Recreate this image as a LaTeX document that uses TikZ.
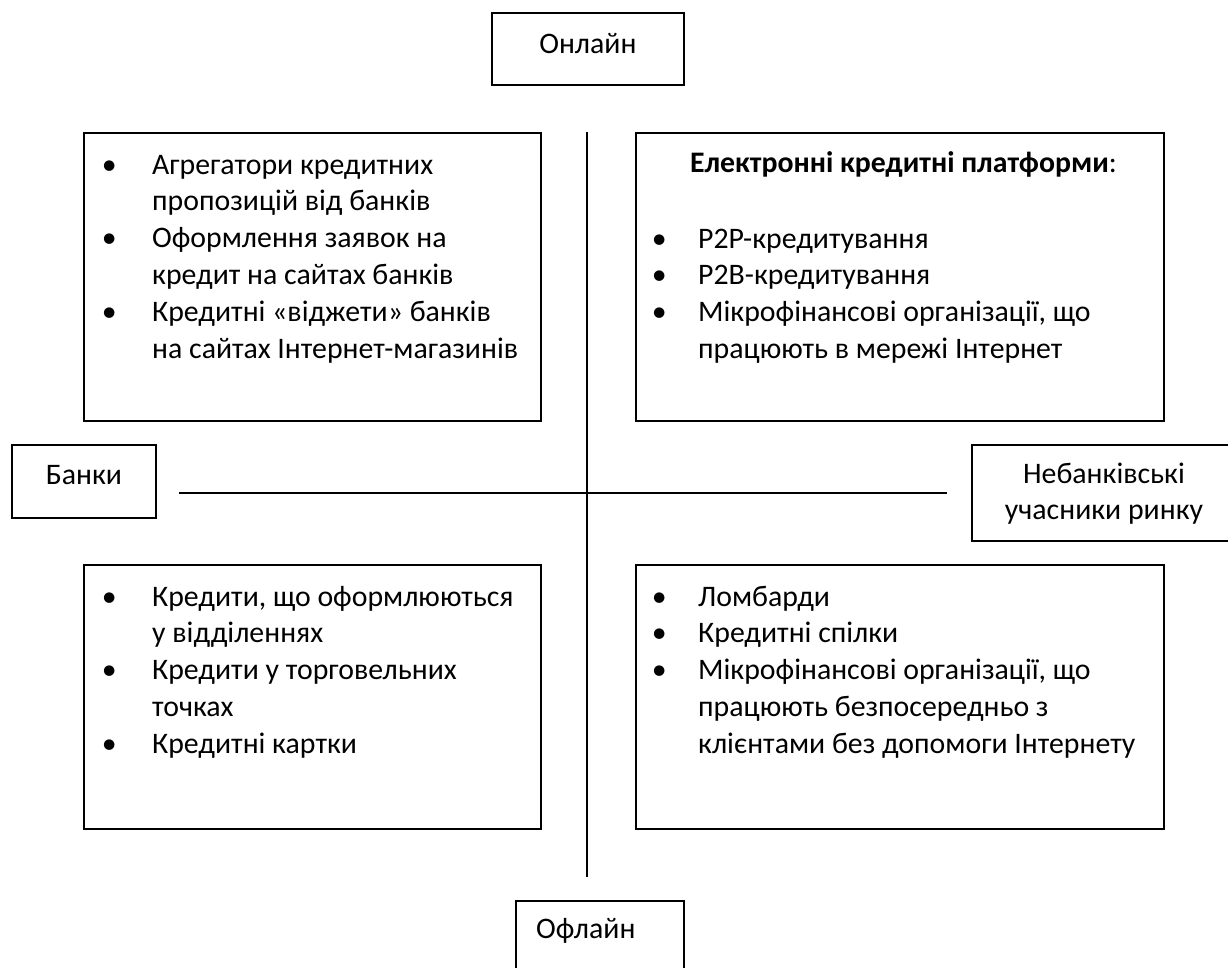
\documentclass[tikz,border=0pt]{standalone}
\usepackage{fontspec}
\setmainfont{Carlito}
\newcommand\bulL{\llap{\makebox[0pt]{\textbullet}\hspace{43pt}}}
\newcommand\bulR{\llap{\makebox[0pt]{\textbullet}\hspace{39pt}}}
\begin{document}
\begin{tikzpicture}[x=1pt,y=-1pt,
  frame/.style={draw=black, line width=1.8pt, rectangle, inner sep=0pt},
  txt/.style={inner sep=0pt, font=\fontsize{29.8}{36.8}\selectfont},
  lbl/.style={frame, font=\fontsize{29.8}{36.8}\selectfont},
  axis/.style={line width=1.8pt}]
\useasboundingbox (0,0) rectangle (1228,967);
\fill[white] (0,0) rectangle (1228,967);
\clip (0,0) rectangle (1228,967);

% quadrant boxes
\node[frame, minimum width=457pt, minimum height=288pt, anchor=north west] (tl) at (83,132) {};
\node[frame, minimum width=528pt, minimum height=288pt, anchor=north west] (tr) at (635,132) {};
\node[frame, minimum width=457pt, minimum height=264pt, anchor=north west] (bl) at (83,564) {};
\node[frame, minimum width=528pt, minimum height=264pt, anchor=north west] (br) at (635,564) {};

% texts in the boxes
\node[txt, anchor=base west] (tlt) at (152,174) {\begin{tabular}[t]{@{}l@{}}
\bulL Агрегатори кредитних\\
пропозицій від банків\\
\bulL Оформлення заявок на\\
кредит на сайтах банків\\
\bulL Кредитні «віджети» банків\\
на сайтах Інтернет-магазинів\end{tabular}};

\node[txt, anchor=base west] (trh) at (690,172) {\textbf{Електронні кредитні платформи}:};
\node[txt, anchor=base west] (trt) at (698,248) {\begin{tabular}[t]{@{}l@{}}
\bulR P2P-кредитування\\
\bulR P2B-кредитування\\
\bulR Мікрофінансові організації, що\\
працюють в мережі Інтернет\end{tabular}};

\node[txt, anchor=base west] (blt) at (152,606) {\begin{tabular}[t]{@{}l@{}}
\bulL Кредити, що оформлюються\\
у відділеннях\\
\bulL Кредити у торговельних\\
точках\\
\bulL Кредитні картки\end{tabular}};

\node[txt, anchor=base west] (brt) at (698,606) {\begin{tabular}[t]{@{}l@{}}
\bulR Ломбарди\\
\bulR Кредитні спілки\\
\bulR Мікрофінансові організації, що\\
працюють безпосередньо з\\
клієнтами без допомоги Інтернету\end{tabular}};

% axis labels
\node[lbl, minimum width=192pt, minimum height=72pt, anchor=north west, text height=20pt, text depth=11pt] (onl) at (491,12) {Онлайн};
\node[lbl, minimum width=144pt, minimum height=73pt, anchor=north west, text height=20pt, text depth=14pt] (bank) at (11,444) {Банки};
\node[frame, minimum width=280pt, minimum height=96pt, anchor=north west] (nonbank) at (971,444) {};
\node[txt, anchor=base] (nonbankt) at (1104,483) {\begin{tabular}[t]{@{}c@{}}Небанківські\\учасники ринку\end{tabular}};
\node[frame, minimum width=168pt, minimum height=100pt, anchor=north west] (offl) at (515,900) {};
\node[txt, anchor=base west] (offlt) at (536,938) {Офлайн};

% axes
\coordinate (vtop) at (587,132);
\coordinate (vbot) at (587,877);
\coordinate (hl) at (179,493);
\coordinate (hr) at (947,493);
\draw[axis] (vtop) -- (vbot);
\draw[axis] (hl) -- (hr);
\end{tikzpicture}
\end{document}
